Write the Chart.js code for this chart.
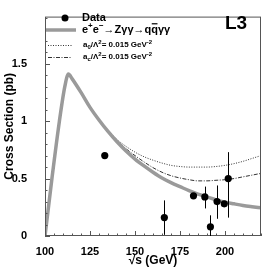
<!DOCTYPE html>
<html>
<head>
<meta charset="utf-8">
<script src="https://cdn.jsdelivr.net/npm/chart.js@4.4.1/dist/chart.umd.min.js"></script>
<style>
  html, body { margin: 0; padding: 0; background: #fff; }
  canvas { display: block; }
</style>
</head>
<body>
<canvas id="xsec" width="273" height="273"></canvas>
<script>
const FONT = "'Liberation Sans', Arial, Helvetica, sans-serif";

// measured cross sections (pb) vs sqrt(s) (GeV)
const dataEnergy = [133.2, 166.3, 182.5, 188.8, 191.9, 195.6, 199.6, 201.8];
const dataXsec   = [0.70, 0.16, 0.35, 0.34, 0.08, 0.30, 0.28, 0.50];
const errDown    = [0.00, 0.15, 0.00, 0.10, 0.08, 0.15, 0.00, 0.34];
const errUp      = [0.00, 0.15, 0.00, 0.09, 0.10, 0.14, 0.00, 0.23];

// Standard Model expectation e+e- -> Z gamma gamma -> q qbar gamma gamma
const smEnergy = [100, 104, 108, 111, 113, 115, 120, 125, 130, 135, 140, 145, 150, 155, 160,
                  165, 170, 175, 180, 185, 190, 195, 200, 205, 210, 215, 220];
const smXsec   = [0.00, 0.52, 1.00, 1.30, 1.41, 1.37, 1.25, 1.12, 1.01, 0.91, 0.82, 0.74, 0.67, 0.61, 0.555,
                  0.505, 0.465, 0.43, 0.395, 0.365, 0.34, 0.315, 0.295, 0.28, 0.266, 0.255, 0.245];

// anomalous couplings predictions
const anoEnergy = [130, 135, 140, 145, 150, 155, 160, 165, 170, 175, 180, 185, 190, 195, 200, 205, 210, 215, 220];
const a0Xsec    = [1.01, 0.92, 0.84, 0.78, 0.73, 0.69, 0.66, 0.635, 0.615, 0.605, 0.60, 0.60, 0.60, 0.605, 0.615, 0.63, 0.65, 0.675, 0.70];
const acXsec    = [1.01, 0.915, 0.83, 0.76, 0.70, 0.645, 0.595, 0.555, 0.525, 0.505, 0.49, 0.48, 0.48, 0.485, 0.49, 0.50, 0.515, 0.53, 0.545];

const xTicks = [100, 125, 150, 175, 200];
const yTicks = [0, 0.5, 1, 1.5];

const pts = (xs, ys) => xs.map((x, i) => ({ x: x, y: ys[i] }));

// frame with inward ticks
const framePlugin = {
  id: 'frame',
  afterDatasetsDraw(chart) {
    const { ctx, chartArea: a, scales: { x, y } } = chart;
    ctx.save();
    ctx.strokeStyle = '#555';
    ctx.lineWidth = 1;
    ctx.strokeRect(a.left + 0.5, a.top + 0.5, a.right - a.left - 1, a.bottom - a.top - 1);
    ctx.beginPath();
    for (let v = 100; v <= 220; v += 5) {
      const px = Math.round(x.getPixelForValue(v)) + 0.5;
      const len = v % 25 === 0 ? 5 : 2.5;
      ctx.moveTo(px, a.bottom);
      ctx.lineTo(px, a.bottom - len);
    }
    for (let i = 0; i <= 19; i++) {
      const v = i / 10;
      const py = Math.round(y.getPixelForValue(v)) + 0.5;
      const len = i % 5 === 0 ? 5 : 2.5;
      ctx.moveTo(a.left, py);
      ctx.lineTo(a.left + len, py);
    }
    ctx.stroke();
    ctx.restore();
  }
};

// vertical error bars on the data
const errorBarPlugin = {
  id: 'errbars',
  afterDatasetsDraw(chart) {
    const { ctx, scales: { x, y } } = chart;
    ctx.save();
    ctx.strokeStyle = '#000';
    ctx.lineWidth = 1;
    ctx.beginPath();
    dataEnergy.forEach((e, i) => {
      if (errDown[i] === 0 && errUp[i] === 0) return;
      const px = Math.round(x.getPixelForValue(e)) + 0.5;
      ctx.moveTo(px, y.getPixelForValue(Math.max(0, dataXsec[i] - errDown[i])));
      ctx.lineTo(px, y.getPixelForValue(dataXsec[i] + errUp[i]));
    });
    ctx.stroke();
    ctx.restore();
  }
};

// text with super/subscripts: parts = [text, kind] kind: '', 'sup', 'sub', 'bar'
function richText(ctx, parts, x, y, size) {
  let cx = x;
  parts.forEach(([t, kind]) => {
    const s = kind === 'sup' || kind === 'sub' ? Math.round(size * 0.7) : size;
    const dy = kind === 'sup' ? -size * 0.38 : kind === 'sub' ? size * 0.25 : 0;
    ctx.font = 'bold ' + s + 'px ' + FONT;
    ctx.fillText(t, cx, y + dy);
    const w = ctx.measureText(t).width;
    if (kind === 'bar') {
      ctx.fillRect(cx + 0.5, y - size * 0.62, w - 1, 1.2);
    }
    cx += w;
  });
}

const legendPlugin = {
  id: 'legendBox',
  afterDraw(chart) {
    const { ctx } = chart;
    ctx.save();
    ctx.fillStyle = '#000';
    ctx.textBaseline = 'middle';
    ctx.textAlign = 'left';
    // Data
    ctx.beginPath();
    ctx.arc(65, 18, 3.5, 0, Math.PI * 2);
    ctx.fill();
    richText(ctx, [['Data', '']], 82, 18, 11);
    // SM line
    ctx.strokeStyle = '#9a9a9a';
    ctx.lineWidth = 3.5;
    ctx.beginPath();
    ctx.moveTo(46, 30); ctx.lineTo(76, 30);
    ctx.stroke();
    richText(ctx, [['e', ''], ['+', 'sup'], ['e', ''], ['\u2212', 'sup'], ['\u2192Z\u03b3\u03b3\u2192q', ''],
                   ['q', 'bar'], ['\u03b3\u03b3', '']], 82, 30, 11);
    // a0 dotted
    ctx.strokeStyle = '#333';
    ctx.lineWidth = 1;
    ctx.setLineDash([1, 1.5]);
    ctx.beginPath();
    ctx.moveTo(48, 45.5); ctx.lineTo(72, 45.5);
    ctx.stroke();
    richText(ctx, [['a', ''], ['0', 'sub'], ['/\u039b', ''], ['2', 'sup'], ['= 0.015 GeV', ''], ['-2', 'sup']], 83, 45, 8);
    // ac dash-dot
    ctx.setLineDash([4, 1.5, 1, 1.5]);
    ctx.beginPath();
    ctx.moveTo(48, 57.5); ctx.lineTo(72, 57.5);
    ctx.stroke();
    ctx.setLineDash([]);
    richText(ctx, [['a', ''], ['c', 'sub'], ['/\u039b', ''], ['2', 'sup'], ['= 0.015 GeV', ''], ['-2', 'sup']], 83, 57, 8);
    // experiment tag
    ctx.font = 'bold 19px ' + FONT;
    ctx.fillText('L3', 225, 24);
    ctx.restore();
  }
};

const tickFont = { family: FONT, size: 11, weight: 'bold' };
const titleFont = { family: FONT, size: 12, weight: 'bold' };

new Chart(document.getElementById('xsec'), {
  type: 'scatter',
  data: {
    datasets: [
      {
        label: 'Data',
        data: pts(dataEnergy, dataXsec),
        pointRadius: 3.6,
        pointBackgroundColor: '#000',
        pointBorderWidth: 0,
        showLine: false,
        order: 0
      },
      {
        label: 'SM',
        data: pts(smEnergy, smXsec),
        showLine: true,
        borderColor: '#9a9a9a',
        borderWidth: 3.5,
        pointRadius: 0,
        cubicInterpolationMode: 'monotone',
        order: 1
      },
      {
        label: 'a0',
        data: pts(anoEnergy, a0Xsec),
        showLine: true,
        borderColor: '#333',
        borderWidth: 1,
        borderDash: [1, 1.5],
        pointRadius: 0,
        cubicInterpolationMode: 'monotone',
        order: 2
      },
      {
        label: 'ac',
        data: pts(anoEnergy, acXsec),
        showLine: true,
        borderColor: '#333',
        borderWidth: 1,
        borderDash: [4, 1.5, 1, 1.5],
        pointRadius: 0,
        cubicInterpolationMode: 'monotone',
        order: 3
      }
    ]
  },
  options: {
    responsive: false,
    animation: false,
    layout: { padding: { top: 9, right: 12, left: 0, bottom: 0 } },
    plugins: { legend: { display: false }, tooltip: { enabled: false } },
    scales: {
      x: {
        type: 'linear',
        min: 100,
        max: 220,
        afterBuildTicks: s => { s.ticks = xTicks.map(v => ({ value: v })); },
        afterFit: s => { s.height = 37; },
        grid: { display: false },
        border: { display: false },
        ticks: { font: tickFont, color: '#000', padding: 1, maxRotation: 0 },
        title: { display: true, text: '\u221as (GeV)', font: titleFont, color: '#000', padding: { top: 0, bottom: 5 } }
      },
      y: {
        type: 'linear',
        min: 0,
        max: 1.91,
        afterBuildTicks: s => { s.ticks = yTicks.map(v => ({ value: v })); },
        afterFit: s => { s.width = 45; },
        grid: { display: false },
        border: { display: false },
        ticks: { font: tickFont, color: '#000', padding: 10, callback: v => String(v) },
        title: { display: true, text: 'Cross Section (pb)', font: titleFont, color: '#000', padding: { top: 2, bottom: 0 } }
      }
    }
  },
  plugins: [framePlugin, errorBarPlugin, legendPlugin]
});
</script>
</body>
</html>
